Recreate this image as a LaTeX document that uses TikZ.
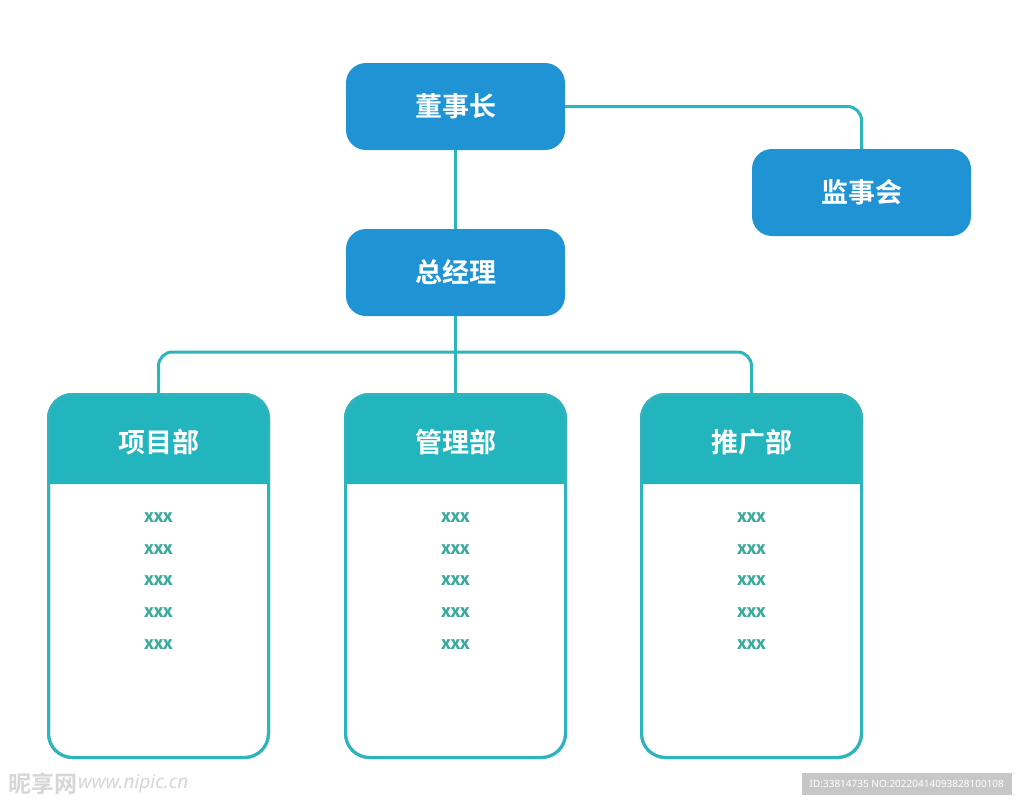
\documentclass[tikz,border=0pt]{standalone}
\usepackage{fontspec}
\setmainfont{Noto Sans}
\newfontfamily\itemfont{Fira Sans}
\newfontfamily\cjk{Noto Sans CJK SC}[BoldFont={* Bold}]
\definecolor{boxblue}{HTML}{1F93D3}
\definecolor{hdteal}{HTML}{23B5BE}
\definecolor{lineteal}{HTML}{2DB4BD}
\definecolor{itemgreen}{HTML}{3AAA9C}
\begin{document}
\begin{tikzpicture}[x=1pt,y=-1pt,
  topbox/.style={draw=none,fill=boxblue,rounded corners=20pt,minimum width=219pt,minimum height=87pt,inner sep=0pt,text=white,font=\cjk\bfseries\fontsize{27}{30}\selectfont},
  deptbox/.style={draw=lineteal,line width=3pt,rounded corners=24pt,minimum width=220pt,minimum height=363pt,inner sep=0pt},
  depttitle/.style={text=white,font=\cjk\bfseries\fontsize{27}{30}\selectfont,inner sep=0pt},
  item/.style={text=itemgreen,font=\itemfont\bfseries\fontsize{18.5}{20}\selectfont,inner sep=0pt},
  conn/.style={draw=lineteal,line width=3pt,rounded corners=14pt},
  hdfill/.style={fill=hdteal}
]
\useasboundingbox (0,0) rectangle (1024,804);
\fill[white] (0,0) rectangle (1024,804);

% top boxes
\node[topbox] (dsz) at (455.5,106.5) {\raisebox{-2pt}{董事长}};
\node[topbox] (jsh) at (861.5,192.5) {\raisebox{-2pt}{监事会}};
\node[topbox] (zjl) at (455.5,272.5) {\raisebox{-2pt}{总经理}};

% department boxes
\foreach \n/\cx/\t in {xmb/158.5/项目部, glb/455.5/管理部, tgb/751.5/推广部}{
  \node[deptbox] (\n) at (\cx,576) {};
  \fill[hdteal] (\cx-110,484) [rounded corners=24pt] -- (\cx-110,394.5) -- (\cx+110,394.5) [sharp corners] -- (\cx+110,484) -- cycle;
  \node[deptbox] at (\cx,576) {};
  \node[depttitle] (\n t) at (\cx,442) {\t};
  \foreach \k/\yy in {1/518,2/550,3/581,4/613,5/645}{
    \node[item] (\n i\k) at (\cx,\yy) {xxx};
  }
}

% connectors
\draw[conn] (dsz.east) -| (jsh.north);
\draw[conn] (dsz.south) -- (zjl.north);
\draw[conn] (zjl.south) -- (glb.north);
\coordinate (hb) at (455.5,352);
\draw[conn] (hb) -| (xmb.north);
\draw[conn] (hb) -| (tgb.north);

% watermark
\node[anchor=west,text=black!16,font=\cjk\bfseries\fontsize{23}{25}\selectfont,inner sep=0pt] (wm1) at (8,784) {昵享网};
\node[anchor=west,text=black!16,font=\itshape\fontsize{19}{21}\selectfont,inner sep=0pt] (wm2) at (78,784) {www.nipic.cn};
\node[fill=black!22,text=white,anchor=east,minimum width=210pt,minimum height=22pt,inner sep=0pt,font=\fontsize{10}{12}\selectfont] (wmid) at (1012,784) {ID:33814735 NO:20220414093828100108};
\end{tikzpicture}
\end{document}
